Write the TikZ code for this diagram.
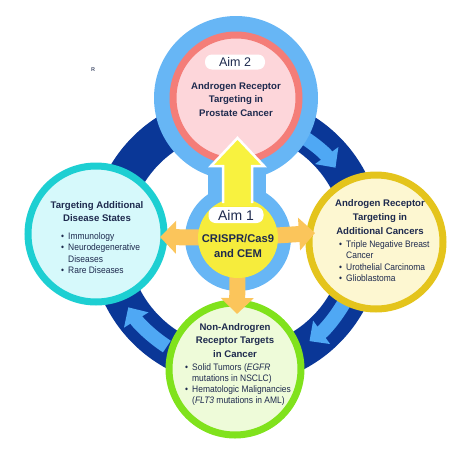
\documentclass[tikz,border=0pt]{standalone}
\usepackage{fontspec}
\setmainfont{Liberation Sans}
\newfontfamily\narrowsf[FakeStretch=0.9]{Liberation Sans}
\usepackage{tikz}
\usetikzlibrary{arrows.meta,positioning}
\definecolor{ringdark}{HTML}{0A3797}
\definecolor{ringlight}{HTML}{4FA8F4}
\definecolor{aimblue}{HTML}{67B6F5}
\definecolor{aimsalmon}{HTML}{F47D78}
\definecolor{aimpink}{HTML}{FDD6DA}
\definecolor{coreyellow}{HTML}{F6EC3C}
\definecolor{uparrow}{HTML}{F8F23F}
\definecolor{sidearrow}{HTML}{FBC55B}
\definecolor{tealring}{HTML}{1DCFD2}
\definecolor{tealfill}{HTML}{D6F9FB}
\definecolor{goldring}{HTML}{E4C41C}
\definecolor{goldfill}{HTML}{FDF7D1}
\definecolor{greenring}{HTML}{80E21C}
\definecolor{greenfill}{HTML}{EEFBD9}
\definecolor{textnavy}{HTML}{1E2A4E}

\begin{document}
\begin{tikzpicture}[x=1pt, y=-1pt,
  topic/.style={circle, draw, line width=7pt, inner sep=0pt},
  heading/.style={align=center, font=\fontsize{9.6}{13.8}\selectfont\bfseries, text=textnavy, inner sep=0pt},
  bullets/.style={align=left, font=\narrowsf\fontsize{9.4}{11.6}\selectfont, text=textnavy, inner sep=0pt, anchor=north west},
  aimtag/.style={fill=white, rounded corners=7pt, text=textnavy, inner sep=0pt},
  ringarr/.style={-{Triangle[width=28pt, length=15pt]}, line width=14pt, ringlight},
  corearr/.style={-{Triangle[width=32pt, length=16pt]}, line width=16pt, sidearrow}
]
  \useasboundingbox (0,0) rectangle (474,450);
  % cycle ring
  \draw[ringdark, line width=38pt] (236,240) circle[radius=127];
  \draw[ringarr] (236,240) ++(-62:123) arc[start angle=-62, end angle=-36, radius=123];
  \draw[ringarr] (236,240) ++(28:125) arc[start angle=28, end angle=54, radius=125];
  \draw[ringarr] (236,240) ++(123:127) arc[start angle=123, end angle=148, radius=127];

  % outer topics
  \node[topic, draw=tealring, fill=tealfill, minimum size=136pt] (disease) at (96,234) {};
  \node[topic, draw=goldring, fill=goldfill, minimum size=134pt] (cancers) at (376,242) {};
  \node[topic, draw=greenring, fill=greenfill, minimum size=132pt] (nonar) at (235,369) {};

  % aim 2 and aim 1 discs
  \fill[aimblue] (236,98) circle[radius=82];
  \fill[aimblue] (208,160) rectangle (266,205);
  \node[circle, fill=aimblue, minimum size=106pt, inner sep=0pt] (core) at (238,238) {};
  \node[topic, line width=7pt, draw=aimsalmon, fill=aimpink, minimum size=126pt] (prostate) at (236,98) {};

  % arrows out of the core
  \coordinate (leftend) at (160,237);
  \coordinate (rightend) at (315,233);
  \coordinate (downend) at (237,314);
  \draw[corearr] (core.center) -- (leftend);
  \draw[corearr] (core.center) -- (rightend);
  \draw[corearr] (core.center) -- (downend);
  \node[circle, fill=coreyellow, minimum size=80pt, inner sep=0pt] (crispr) at (238,238) {};
  \fill[uparrow] (223,206) -- (223,166) -- (211,166) -- (237.5,138) -- (264,166) -- (252,166) -- (252,206) -- cycle;
  \draw[white, line width=2.5pt, line join=miter] (223,203) -- (223,166) -- (211,166) -- (237.5,138) -- (264,166) -- (252,166) -- (252,203);

  % labels
  \node[aimtag, minimum width=60pt, minimum height=15pt, font=\fontsize{12.5}{14}\selectfont] (aimtwo) at (235,62) {Aim 2};
  \node[heading] (prostatetxt) at (236,99.5) {Androgen Receptor\\Targeting in\\Prostate Cancer};
  \node[aimtag, minimum width=55pt, minimum height=16pt, font=\fontsize{14}{16}\selectfont] (aimone) at (236,215) {Aim 1};
  \node[heading, font=\fontsize{11.2}{15}\selectfont\bfseries] (crisprtxt) at (238,245.5) {CRISPR/Cas9\\and CEM};

  \node[heading] (diseasetxt) at (97,211.5) {Targeting Additional\\Disease States};
  \node[bullets] (diseaselist) at (61,232) {\makebox[7pt][l]{\textbullet}Immunology\\
    \makebox[7pt][l]{\textbullet}Neurodegenerative\\
    \makebox[7pt][l]{}Diseases\\
    \makebox[7pt][l]{\textbullet}Rare Diseases};

  \node[heading] (cancerstxt) at (380,217) {Androgen Receptor\\Targeting in\\Additional Cancers};
  \node[bullets] (cancerslist) at (339,240) {\makebox[7pt][l]{\textbullet}Triple Negative Breast\\
    \makebox[7pt][l]{}Cancer\\
    \makebox[7pt][l]{\textbullet}Urothelial Carcinoma\\
    \makebox[7pt][l]{\textbullet}Glioblastoma};

  \node[heading] (nonartxt) at (235,340.5) {Non-Androgren\\Receptor Targets\\in Cancer};
  \node[bullets, font=\narrowsf\fontsize{9.4}{11.3}\selectfont] (nonarlist) at (185,363) {\makebox[7pt][l]{\textbullet}Solid Tumors (\textit{EGFR}\\
    \makebox[7pt][l]{}mutations in NSCLC)\\
    \makebox[7pt][l]{\textbullet}Hematologic Malignancies\\
    \makebox[7pt][l]{}(\textit{FLT3} mutations in AML)};

  \node[font=\fontsize{5.5}{6}\selectfont\bfseries, text=textnavy!80] (mark) at (93,70) {R};
\end{tikzpicture}
\end{document}
